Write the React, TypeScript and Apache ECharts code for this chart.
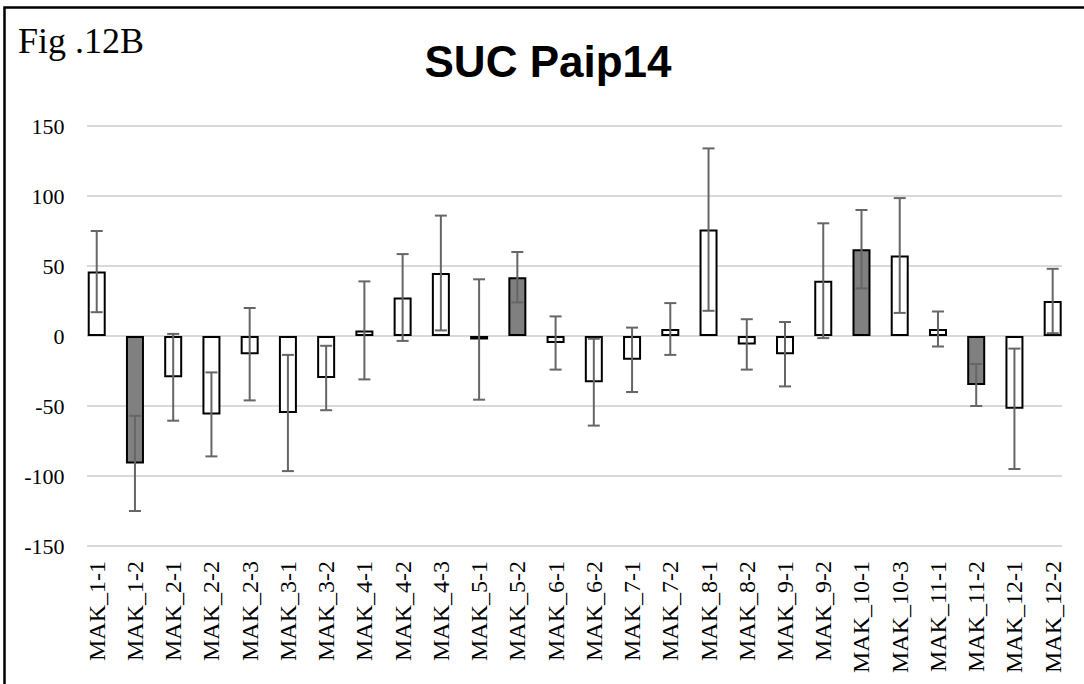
import React, { useEffect, useRef } from "react";
import * as echarts from "echarts";

const categories = [
  "MAK_1-1", "MAK_1-2", "MAK_2-1", "MAK_2-2", "MAK_2-3", "MAK_3-1", "MAK_3-2",
  "MAK_4-1", "MAK_4-2", "MAK_4-3", "MAK_5-1", "MAK_5-2", "MAK_6-1", "MAK_6-2",
  "MAK_7-1", "MAK_7-2", "MAK_8-1", "MAK_8-2", "MAK_9-1", "MAK_9-2", "MAK_10-1",
  "MAK_10-3", "MAK_11-1", "MAK_11-2", "MAK_12-1", "MAK_12-2",
];
const values = [
  46, -91, -29.5, -56, -13, -55, -30, 4, 27.5, 45, -2.5, 42, -5, -33,
  -17, 5, 76, -6, -13, 39.5, 62, 57.5, 5, -35, -52, 25,
];
const errors = [
  29, 34, 31, 30, 33, 41.5, 23, 35, 31, 41, 43, 18, 19, 31,
  23, 18.5, 58, 18, 23, 41, 28, 41, 12.5, 15, 43, 23,
];
const highlighted = ["MAK_1-2", "MAK_5-2", "MAK_10-1", "MAK_11-2"];
const yMin = -150;
const yMax = 150;
const yInterval = 50;
const titleText = "SUC Paip14";
const figLabel = "Fig .12B";

export default function App() {
  const ref = useRef<HTMLDivElement>(null);
  useEffect(() => {
    if (!ref.current) return;
    const chart = echarts.init(ref.current, undefined, { renderer: "svg" });
    const serif = "Liberation Serif";
    const barData = values.map((v, i) => ({
      value: v,
      itemStyle: {
        color: highlighted.includes(categories[i]) ? "#808080" : "#ffffff",
        borderColor: "#000000",
        borderWidth: 2,
      },
    }));
    const errData = values.map((v, i) => [i, v, errors[i]]);
    const option: any = {
      animation: false,
      backgroundColor: "#ffffff",
      grid: [
        { left: 77.6, right: 12.2, top: 126, bottom: 138 },
        { left: 87, right: 22, top: 126, bottom: 138 },
      ],
      xAxis: [
        {
          type: "category",
          gridIndex: 0,
          data: categories,
          position: "bottom",
          axisLine: { show: false, onZero: false },
          axisTick: { show: false },
          axisLabel: {
            rotate: 90,
            interval: 0,
            margin: 15,
            fontFamily: serif,
            fontSize: 24,
            color: "#000000",
          },
          splitLine: { show: false },
        },
        {
          type: "value",
          gridIndex: 1,
          min: 0,
          max: 1,
          show: false,
        },
      ],
      yAxis: [
        {
          type: "value",
          gridIndex: 0,
          min: yMin,
          max: yMax,
          interval: yInterval,
          axisLine: { show: false },
          axisTick: { show: false },
          splitLine: { show: false },
          axisLabel: {
            margin: 13,
            fontFamily: serif,
            fontSize: 22,
            color: "#000000",
          },
        },
        {
          type: "value",
          gridIndex: 1,
          min: yMin,
          max: yMax,
          interval: yInterval,
          axisLine: { show: false },
          axisTick: { show: false },
          axisLabel: { show: false },
          splitLine: { show: true, lineStyle: { color: "#d9d9d9", width: 2 } },
        },
      ],
      series: [
        {
          type: "line",
          xAxisIndex: 1,
          yAxisIndex: 1,
          data: [],
          silent: true,
        },
        {
          type: "bar",
          xAxisIndex: 0,
          yAxisIndex: 0,
          data: barData,
          barWidth: 18,
          z: 3,
        },
        {
          type: "custom",
          xAxisIndex: 0,
          yAxisIndex: 0,
          data: errData,
          z: 4,
          renderItem: (params: any, api: any) => {
            const x = api.value(0);
            const v = api.value(1);
            const e = api.value(2);
            const top = api.coord([x, v + e]);
            const bot = api.coord([x, v - e]);
            const hw = 6;
            const style = { stroke: "#666666", lineWidth: 2 };
            return {
              type: "group",
              children: [
                { type: "line", shape: { x1: top[0], y1: top[1], x2: bot[0], y2: bot[1] }, style },
                { type: "line", shape: { x1: top[0] - hw, y1: top[1], x2: top[0] + hw, y2: top[1] }, style },
                { type: "line", shape: { x1: bot[0] - hw, y1: bot[1], x2: bot[0] + hw, y2: bot[1] }, style },
              ],
            };
          },
        },
      ],
      graphic: [
        {
          type: "rect",
          shape: { x: 4.5, y: 7.5, width: 1200, height: 800 },
          style: { fill: "none", stroke: "#000000", lineWidth: 2.5 },
          silent: true,
        },
        {
          type: "text",
          x: 548,
          y: 61,
          style: {
            text: titleText,
            font: "bold 44px 'Liberation Sans'",
            fill: "#000000",
            align: "center",
            verticalAlign: "middle",
          },
        },
        {
          type: "text",
          x: 18,
          y: 41,
          style: {
            text: figLabel,
            font: "36px 'Liberation Serif'",
            fill: "#000000",
            align: "left",
            verticalAlign: "middle",
          },
        },
      ],
    };
    chart.setOption(option);
    return () => chart.dispose();
  }, []);
  return (
    <div
      ref={ref}
      style={{ position: "fixed", left: 0, top: 0, width: 1084, height: 684, background: "#fff" }}
    />
  );
}
